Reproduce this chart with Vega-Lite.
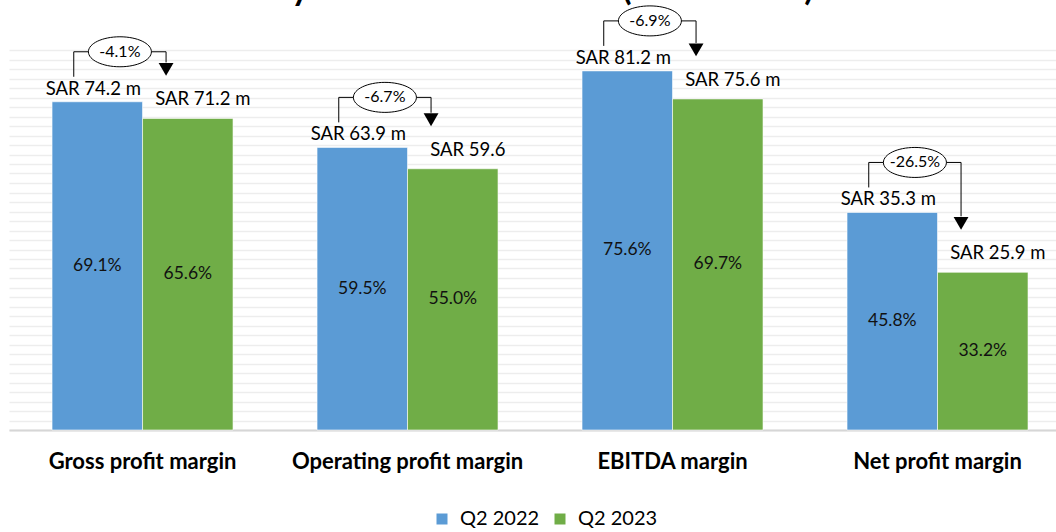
{
  "$schema": "https://vega.github.io/schema/vega-lite/v6.json",
  "width": 1047,
  "height": 380,
  "autosize": {"type": "none"},
  "padding": {"left": 9, "top": 50, "right": 0, "bottom": 102},
  "background": "white",
  "title": {
    "text": "Key Performance Ratios (SAR million)",
    "font": "Lato",
    "fontSize": 34,
    "fontWeight": "bold",
    "color": "#000000",
    "anchor": "middle",
    "baseline": "alphabetic",
    "offset": 0,
    "dy": 30
  },
  "config": {"view": {"stroke": null}, "font": "Lato"},
  "data": {
    "values": [
      {"category": "Gross profit margin", "q2_2022": 0.691, "q2_2023": 0.656, "sar_2022": "SAR 74.2 m", "sar_2023": "SAR 71.2 m", "change": "-4.1%"},
      {"category": "Operating profit margin", "q2_2022": 0.595, "q2_2023": 0.55, "sar_2022": "SAR 63.9 m", "sar_2023": "SAR 59.6", "change": "-6.7%"},
      {"category": "EBITDA margin", "q2_2022": 0.756, "q2_2023": 0.697, "sar_2022": "SAR 81.2 m", "sar_2023": "SAR 75.6 m", "change": "-6.9%"},
      {"category": "Net profit margin", "q2_2022": 0.458, "q2_2023": 0.332, "sar_2022": "SAR 35.3 m", "sar_2023": "SAR 25.9 m", "change": "-26.5%"}
    ]
  },
  "resolve": {"scale": {"y": "independent"}},
  "layer": [
    {
      "transform": [{"fold": ["q2_2022", "q2_2023"], "as": ["series", "margin"]}],
      "mark": {"type": "bar", "stroke": "#ffffff", "strokeWidth": 0.6},
      "encoding": {
        "x": {
          "field": "category", "type": "nominal",
          "scale": {"domain": ["Gross profit margin", "Operating profit margin", "EBITDA margin", "Net profit margin"], "paddingInner": 0.317, "paddingOuter": 0.134, "align": 0.606},
          "axis": {"title": null, "labelAngle": 0, "labelFontSize": 22, "labelFontWeight": "bold", "labelColor": "#000000", "labelPadding": 21, "labelLimit": 0, "ticks": false, "domain": true, "domainColor": "#d6d6d6", "domainWidth": 2, "grid": false}
        },
        "xOffset": {"field": "series", "type": "nominal", "scale": {"domain": ["q2_2022", "q2_2023"], "paddingInner": 0}},
        "y": {
          "field": "margin", "type": "quantitative",
          "scale": {"domain": [0, 0.8], "nice": false},
          "axis": {"title": null, "labels": false, "ticks": false, "domain": false, "grid": true, "gridColor": "#ededed", "gridWidth": 1.5, "tickCount": 40}
        },
        "color": {
          "field": "series", "type": "nominal",
          "scale": {"domain": ["q2_2022", "q2_2023"], "range": ["#5B9BD5", "#70AD47"]},
          "legend": {
            "title": null, "orient": "none", "legendX": 423, "legendY": 459, "direction": "horizontal",
            "symbolType": "square", "symbolSize": 121, "symbolStrokeWidth": 0,
            "labelFontSize": 20, "labelColor": "#000000", "labelOffset": 8, "columnPadding": 10,
            "labelExpr": "datum.label == 'q2_2022' ? 'Q2 2022' : 'Q2 2023'"
          }
        }
      }
    },
    {
      "mark": {"type": "text", "fontSize": 17.5, "color": "#111111", "baseline": "middle"},
      "encoding": {
        "x": {"field": "category", "type": "nominal", "bandPosition": 0.25, "scale": {"domain": ["Gross profit margin", "Operating profit margin", "EBITDA margin", "Net profit margin"], "paddingInner": 0.317, "paddingOuter": 0.134, "align": 0.606}},
        "y": {"field": "q2_2022", "type": "quantitative", "scale": {"domain": [0, 1.6], "nice": false}, "axis": null},
        "text": {"field": "q2_2022", "type": "quantitative", "format": ".1%"}
      }
    },
    {
      "mark": {"type": "text", "fontSize": 17.5, "color": "#111111", "baseline": "middle"},
      "encoding": {
        "x": {"field": "category", "type": "nominal", "bandPosition": 0.75, "scale": {"domain": ["Gross profit margin", "Operating profit margin", "EBITDA margin", "Net profit margin"], "paddingInner": 0.317, "paddingOuter": 0.134, "align": 0.606}},
        "y": {"field": "q2_2023", "type": "quantitative", "scale": {"domain": [0, 1.6], "nice": false}, "axis": null},
        "text": {"field": "q2_2023", "type": "quantitative", "format": ".1%"}
      }
    },
    {
      "mark": {"type": "text", "fontSize": 18.5, "color": "#000000", "baseline": "middle", "dx": -4, "dy": -13},
      "encoding": {
        "x": {"field": "category", "type": "nominal", "bandPosition": 0.25, "scale": {"domain": ["Gross profit margin", "Operating profit margin", "EBITDA margin", "Net profit margin"], "paddingInner": 0.317, "paddingOuter": 0.134, "align": 0.606}},
        "y": {"field": "q2_2022", "type": "quantitative", "scale": {"domain": [0, 0.8], "nice": false}, "axis": null},
        "text": {"field": "sar_2022"}
      }
    },
    {
      "mark": {"type": "text", "fontSize": 18.5, "color": "#000000", "baseline": "middle", "dx": 15, "dy": -19},
      "encoding": {
        "x": {"field": "category", "type": "nominal", "bandPosition": 0.75, "scale": {"domain": ["Gross profit margin", "Operating profit margin", "EBITDA margin", "Net profit margin"], "paddingInner": 0.317, "paddingOuter": 0.134, "align": 0.606}},
        "y": {"field": "q2_2023", "type": "quantitative", "scale": {"domain": [0, 0.8], "nice": false}, "axis": null},
        "text": {"field": "sar_2023"}
      }
    },
    {
      "mark": {"type": "rule", "color": "#000000", "strokeWidth": 1, "yOffset": -25, "y2Offset": -50},
      "encoding": {
        "x": {"field": "category", "type": "nominal", "bandPosition": 0.12, "scale": {"domain": ["Gross profit margin", "Operating profit margin", "EBITDA margin", "Net profit margin"], "paddingInner": 0.317, "paddingOuter": 0.134, "align": 0.606}},
        "y": {"field": "q2_2022", "type": "quantitative", "scale": {"domain": [0, 0.8], "nice": false}, "axis": null},
        "y2": {"field": "q2_2022"}
      }
    },
    {
      "mark": {"type": "rule", "color": "#000000", "strokeWidth": 1, "yOffset": -50},
      "encoding": {
        "x": {"field": "category", "type": "nominal", "bandPosition": 0.12, "scale": {"domain": ["Gross profit margin", "Operating profit margin", "EBITDA margin", "Net profit margin"], "paddingInner": 0.317, "paddingOuter": 0.134, "align": 0.606}},
        "x2": {"field": "category", "bandPosition": 0.63},
        "y": {"field": "q2_2022", "type": "quantitative", "scale": {"domain": [0, 0.8], "nice": false}, "axis": null}
      }
    },
    {
      "mark": {"type": "rule", "color": "#000000", "strokeWidth": 1, "yOffset": -50, "y2Offset": -56},
      "encoding": {
        "x": {"field": "category", "type": "nominal", "bandPosition": 0.63, "scale": {"domain": ["Gross profit margin", "Operating profit margin", "EBITDA margin", "Net profit margin"], "paddingInner": 0.317, "paddingOuter": 0.134, "align": 0.606}},
        "y": {"field": "q2_2022", "type": "quantitative", "scale": {"domain": [0, 0.8], "nice": false}, "axis": null},
        "y2": {"field": "q2_2023"}
      }
    },
    {
      "mark": {"type": "point", "shape": "triangle-down", "filled": true, "color": "#000000", "opacity": 1, "size": 220, "yOffset": -49},
      "encoding": {
        "x": {"field": "category", "type": "nominal", "bandPosition": 0.63, "scale": {"domain": ["Gross profit margin", "Operating profit margin", "EBITDA margin", "Net profit margin"], "paddingInner": 0.317, "paddingOuter": 0.134, "align": 0.606}},
        "y": {"field": "q2_2023", "type": "quantitative", "scale": {"domain": [0, 0.8], "nice": false}, "axis": null}
      }
    },
    {
      "mark": {"type": "point", "shape": "M -2.1 0 A 2.1 1 0 1 1 2.1 0 A 2.1 1 0 1 1 -2.1 0 Z", "filled": true, "fill": "#ffffff", "stroke": "#000000", "strokeWidth": 1, "opacity": 1, "size": 900, "yOffset": -50},
      "encoding": {
        "x": {"field": "category", "type": "nominal", "bandPosition": 0.375, "scale": {"domain": ["Gross profit margin", "Operating profit margin", "EBITDA margin", "Net profit margin"], "paddingInner": 0.317, "paddingOuter": 0.134, "align": 0.606}},
        "y": {"field": "q2_2022", "type": "quantitative", "scale": {"domain": [0, 0.8], "nice": false}, "axis": null}
      }
    },
    {
      "mark": {"type": "text", "fontSize": 16, "color": "#000000", "baseline": "middle", "dy": -50},
      "encoding": {
        "x": {"field": "category", "type": "nominal", "bandPosition": 0.375, "scale": {"domain": ["Gross profit margin", "Operating profit margin", "EBITDA margin", "Net profit margin"], "paddingInner": 0.317, "paddingOuter": 0.134, "align": 0.606}},
        "y": {"field": "q2_2022", "type": "quantitative", "scale": {"domain": [0, 0.8], "nice": false}, "axis": null},
        "text": {"field": "change"}
      }
    }
  ]
}
